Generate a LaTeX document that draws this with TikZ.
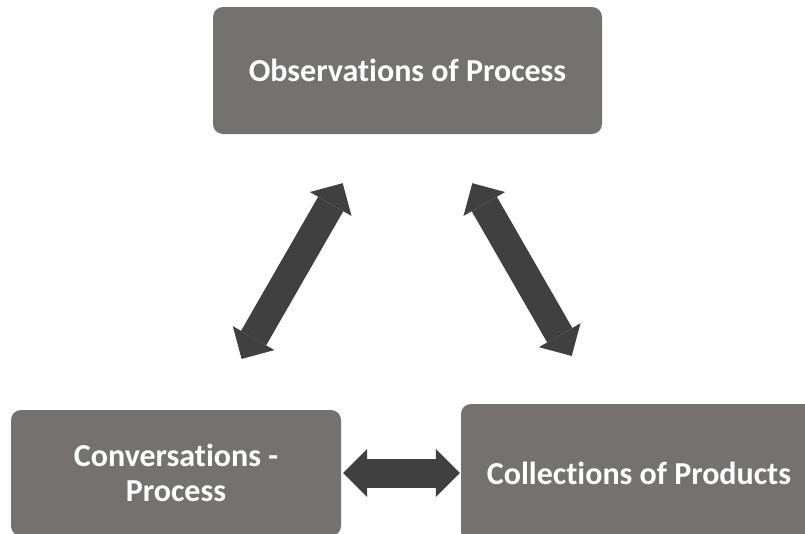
\documentclass[tikz,border=0pt]{standalone}
\usepackage{fontspec}
\setmainfont{Carlito}[RawFeature=-liga]
\usetikzlibrary{arrows.meta}
\definecolor{boxgray}{HTML}{767171}
\definecolor{arrowgray}{HTML}{404040}
\tikzset{
  stage/.style={fill=boxgray, rounded corners=10pt, text=white,
    font=\bfseries\fontsize{32}{35}\selectfont, align=center, inner sep=0pt},
  twoway/.style={draw=arrowgray, line width=29pt, {Triangle[width=48pt,length=24pt,line width=0pt]}-{Triangle[width=48pt,length=24pt,line width=0pt]}}
}
\begin{document}
\begin{tikzpicture}[x=1pt,y=-1pt]
  \path[use as bounding box] (0,0) rectangle (805,533);
  \clip (0,0) rectangle (805,533);

  % the three stages
  \node[stage, minimum width=389pt, minimum height=127pt] (top) at (407.5,70.5) {Observations of Process};
  \node[stage, minimum width=330pt, minimum height=126pt] (left) at (176,473) {Conversations -\\Process};
  \node[stage, minimum width=356pt, minimum height=138pt] (right) at (639,473) {Collections of Products};

  % two-way links between the stages
  \draw[twoway, shorten <=130pt, shorten >=131.6pt] (top.center) -- (left.center);
  \draw[twoway, shorten <=130pt, shorten >=135pt] (top.center) -- (right.center);
  \draw[twoway, shorten <=2pt, shorten >=1pt] (left.east) -- (right.west);
\end{tikzpicture}
\end{document}
